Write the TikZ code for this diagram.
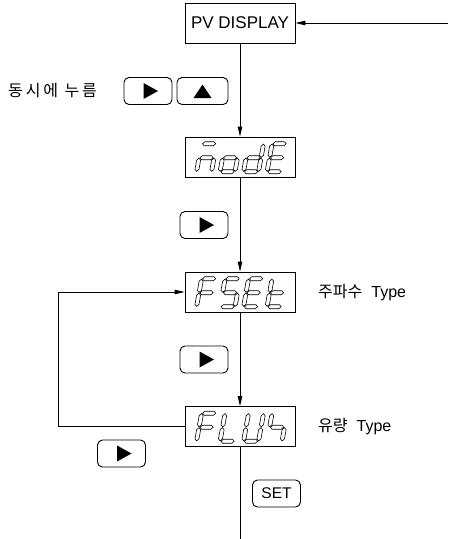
\documentclass[tikz,border=0pt]{standalone}
\usepackage{fontspec}
\setmainfont{Liberation Sans}
\newfontfamily\kor{Noto Sans CJK KR}
\usetikzlibrary{calc,arrows.meta}
\def\hseg(#1,#2){\draw[segline] (#1-6.6,#2) -- (#1-4.6,#2+2) -- (#1+4.6,#2+2) -- (#1+6.6,#2) -- (#1+4.6,#2-2) -- (#1-4.6,#2-2) -- cycle;}
\def\vseg(#1,#2){\draw[segline] (#1,#2-6.6) -- (#1+2,#2-4.6) -- (#1+2,#2+4.6) -- (#1,#2+6.6) -- (#1-2,#2+4.6) -- (#1-2,#2-4.6) -- cycle;}
\def\sega{\hseg(7.5,-28)}
\def\segb{\vseg(15,-21)}
\def\segc{\vseg(15,-7)}
\def\segd{\hseg(7.5,0)}
\def\sege{\vseg(0,-7)}
\def\segf{\vseg(0,-21)}
\def\segg{\hseg(7.5,-14)}
\def\sevseg#1#2{\begin{scope}[shift={#1},xslant=0.18]\foreach \s in #2 {\csname seg\s\endcsname}\end{scope}}
\def\rtri#1{\fill ($(#1)+(-4.5,-8)$) -- ($(#1)+(10,0)$) -- ($(#1)+(-4.5,8)$) -- cycle;}
\def\utri#1{\fill ($(#1)+(-9,7)$) -- ($(#1)+(0,-6.5)$) -- ($(#1)+(9,7)$) -- cycle;}

\begin{document}
\begin{tikzpicture}[x=1pt,y=-1pt,
	dispbox/.style={draw, line width=0.9pt, minimum width=110pt, minimum height=40pt, inner sep=0pt},
	keybox/.style={draw, rounded corners=5pt, line width=0.9pt, minimum width=48pt, minimum height=27pt, inner sep=0pt},
	segline/.style={line width=0.6pt},
	conn/.style={line width=0.9pt, -{Triangle[length=10pt,width=4.5pt]}},
	lbl/.style={anchor=west, inner sep=0pt, font=\fontsize{16}{18}\selectfont}]
			%%%%% START %%%%%
			\useasboundingbox (0,0) rectangle (450,539);
			
			\node[dispbox, font=\fontsize{17}{19}\selectfont] (pv) at (240,23) {PV DISPLAY};
			\node[dispbox] (mode) at (240,157) {};
			\node[dispbox] (fset) at (240,292) {};
			\node[dispbox] (flow) at (240,426.5) {};
			
			\foreach \segs [count=\i from 0] in {{a,c,e,g},{c,d,e,g},{b,c,d,e,g},{a,d,e,f,g}}
				\sevseg{($(mode.south west)+(12+23.5*\i,-5.7)$)}{\segs};
			\foreach \segs [count=\i from 0] in {{a,e,f,g},{a,c,d,f,g},{a,d,e,f,g},{d,e,f,g}}
				\sevseg{($(fset.south west)+(12+23.5*\i,-5.7)$)}{\segs};
			\foreach \segs [count=\i from 0] in {{a,e,f,g},{d,e,f},{b,c,d,e,f},{c,f,g}}
				\sevseg{($(flow.south west)+(12+23.5*\i,-5.7)$)}{\segs};
			
			\node[keybox] (kR1) at (148,91) {};
			\node[keybox, minimum width=51pt] (kUp) at (202.5,91) {};
			\node[keybox] (kR2) at (204,225) {};
			\node[keybox] (kR3) at (204,359.5) {};
			\node[keybox] (kR4) at (121.5,453.5) {};
			\node[keybox, font=\fontsize{15.5}{17}\selectfont] (kSet) at (276.5,493.5) {SET};
			\rtri{kR1} \utri{kUp} \rtri{kR2} \rtri{kR3} \rtri{kR4}
			
			\node[lbl] (lbPress) at (8,91) {\kor\fontsize{16}{18}\selectfont\addfontfeature{LetterSpace=18}동시에 누름};
			\node[lbl] (lbFreq) at (318,292.5) {{\kor\fontsize{16}{18}\selectfont 주파수}\hspace{9pt}Type};
			\node[lbl] (lbFlow) at (318,426.5) {{\kor\fontsize{16}{18}\selectfont 유량}\hspace{9pt}Type};
			
			\coordinate (inR) at (448,23);
			\coordinate (loopL) at (58,426.5);
			\coordinate (outB) at (240,539);
			\draw[conn] (inR) -- (pv);
			\draw[conn] (pv) -- (mode);
			\draw[conn] (mode) -- (fset);
			\draw[conn] (fset) -- (flow);
			\draw[conn] (flow.west) -- (loopL) |- (fset.west);
			\draw[line width=0.9pt] (flow) -- (outB);
			%%%%% END %%%%%
\end{tikzpicture}
\end{document}
